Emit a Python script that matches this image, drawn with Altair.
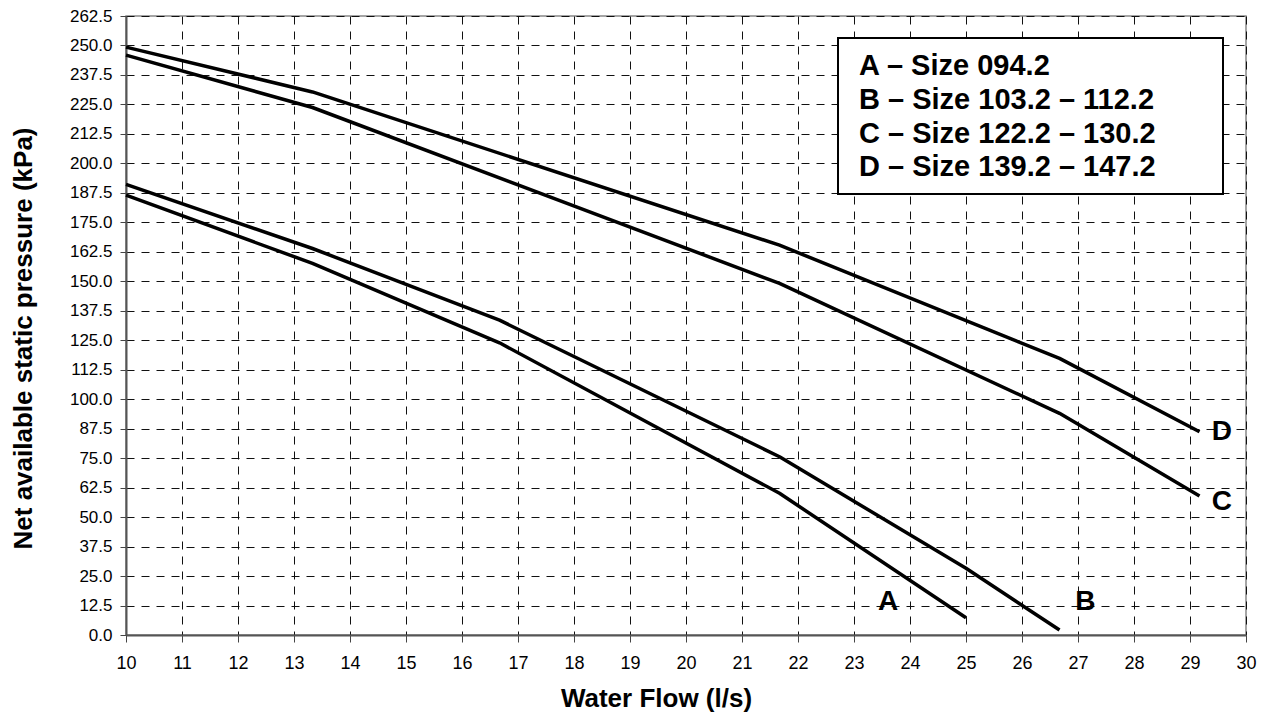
import altair as alt
import pandas as pd

# Curve data (water flow l/s, net available static pressure kPa)
flow_A = [10.0, 13.33, 16.67, 21.67, 25.0]
press_A = [186.5, 157.6, 123.9, 60.1, 7.3]
flow_B = [10.0, 13.33, 16.67, 21.67, 25.0, 26.67]
press_B = [191.1, 163.9, 133.5, 75.6, 28.3, 2.1]
flow_C = [10.0, 13.33, 21.67, 26.67, 29.17]
press_C = [245.9, 223.7, 149.1, 94.0, 58.9]
flow_D = [10.0, 13.33, 21.67, 26.67, 29.17]
press_D = [249.3, 230.3, 165.3, 117.3, 86.2]

curve_names = ["A", "B", "C", "D"]
legend_labels = [
    "A \u2013 Size 094.2",
    "B \u2013 Size 103.2 \u2013 112.2",
    "C \u2013 Size 122.2 \u2013 130.2",
    "D \u2013 Size 139.2 \u2013 147.2",
]
label_flow = [23.61, 27.13, 29.57, 29.57]
label_press = [14.0, 14.0, 56.5, 86.2]

x_ticks = list(range(10, 31))
y_ticks = [i * 12.5 for i in range(22)]

FONT = "Liberation Sans"

rows = []
for name, fx, py in zip(curve_names, [flow_A, flow_B, flow_C, flow_D],
                        [press_A, press_B, press_C, press_D]):
    for f, p in zip(fx, py):
        rows.append({"curve": name, "flow": f, "pressure": p})
df = pd.DataFrame(rows)
df_lab = pd.DataFrame({"curve": curve_names, "flow": label_flow, "pressure": label_press})

xscale = alt.Scale(domain=[10, 30], nice=False, zero=False)
yscale = alt.Scale(domain=[0, 262.5], nice=False)

x_axis = alt.Axis(values=x_ticks, format="d", title="Water Flow (l/s)",
                  tickSize=7, labelPadding=12, labelFontSize=18, labelOverlap=False,
                  titleFontSize=26, titleFontWeight="bold", titleX=530, titleY=71,
                  titleBaseline="alphabetic", titleAlign="center", labelFlush=False)
y_axis = alt.Axis(values=y_ticks, format=".1f", title="Net available static pressure (kPa)",
                  tickSize=6, labelPadding=8, labelFontSize=17, labelOverlap=False,
                  titleFontSize=26, titleFontWeight="bold", titleX=-95, titleY=322,
                  titleBaseline="alphabetic", titleAlign="center", titleAngle=270,
                  labelFlush=False)

lines = alt.Chart(df).mark_line(color="black", strokeWidth=3.5, strokeJoin="round").encode(
    x=alt.X("flow:Q", scale=xscale, axis=x_axis),
    y=alt.Y("pressure:Q", scale=yscale, axis=y_axis),
    detail="curve:N",
    order="flow:Q",
)

labels = alt.Chart(df_lab).mark_text(font=FONT, fontSize=28, fontWeight="bold",
                                     color="black", align="center", baseline="middle").encode(
    x=alt.X("flow:Q", scale=xscale, axis=x_axis),
    y=alt.Y("pressure:Q", scale=yscale, axis=y_axis),
    text="curve:N",
)

box = alt.Chart(pd.DataFrame({"k": [0]})).mark_rect(
    fill="white", stroke="black", strokeWidth=2).encode(
    x=alt.value(712), x2=alt.value(1097), y=alt.value(22), y2=alt.value(178))

legend_baselines = [59.3, 93.0, 126.7, 160.4]
legend_layers = []
for t, b in zip(legend_labels, legend_baselines):
    legend_layers.append(
        alt.Chart(pd.DataFrame({"k": [0]})).mark_text(
            text=t, font=FONT, fontSize=29, fontWeight="bold", color="black",
            align="left", baseline="alphabetic").encode(x=alt.value(733), y=alt.value(b))
    )

chart = alt.layer(lines, labels, box, *legend_layers).properties(
    width=1120, height=619,
    autosize=alt.AutoSizeParams(type="none"),
    padding={"left": 118, "top": 8, "right": 12, "bottom": 77},
).configure_view(
    stroke="#888", strokeWidth=1.5
).configure_axis(
    grid=True, gridColor="#111", gridDash=[8, 7], gridWidth=1,
    domainColor="#555", domainWidth=2, tickColor="#444", tickWidth=1,
    labelFont=FONT, titleFont=FONT, labelColor="black", titleColor="black",
    labelOverlap=False,
)

chart.save("out.html", embed_options={"renderer": "svg", "actions": False})
